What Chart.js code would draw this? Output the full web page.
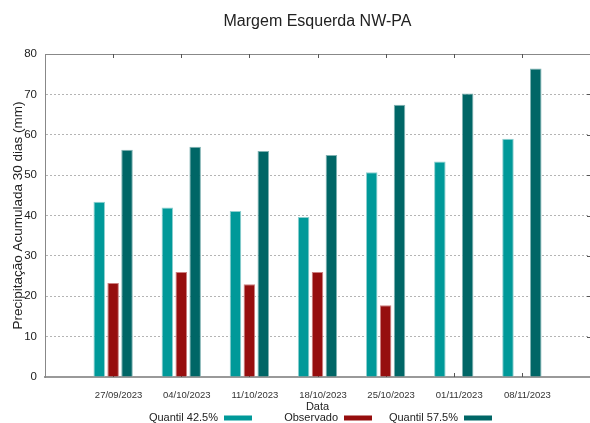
<!DOCTYPE html>
<html>
<head>
<meta charset="utf-8">
<script src="https://cdn.jsdelivr.net/npm/chart.js@4"></script>
<style>
  body { margin: 0; background: #fff; }
  canvas { display: block; }
</style>
</head>
<body>
<canvas id="chart" width="590" height="423"></canvas>
<script>
const dates = ["27/09/2023", "04/10/2023", "11/10/2023", "18/10/2023", "25/10/2023", "01/11/2023", "08/11/2023"];
const quantil425 = [43.4, 42.0, 41.1, 39.6, 50.7, 53.4, 59.0];
const observado = [23.3, 26.0, 23.0, 26.0, 17.8, null, null];
const quantil575 = [56.3, 57.0, 56.0, 55.0, 67.4, 70.2, 76.4];
const yMin = 0;
const yMax = 80;
const yStep = 10;

const FONT = "'Liberation Sans', Arial, sans-serif";

// gnuplot style: one empty slot on each side of the dates
const pad = (arr) => [null, ...arr, null];
const labels = ["", ...dates, ""];

// border on top plus small mirrored ticks
const framePlugin = {
  id: "frame",
  beforeDatasetsDraw(chart) {
    const { ctx, chartArea: a, scales } = chart;
    ctx.save();
    ctx.strokeStyle = "#888";
    ctx.lineWidth = 1;
    ctx.beginPath();
    ctx.moveTo(a.left, a.top + 0.5);
    ctx.lineTo(a.right, a.top + 0.5);
    ctx.stroke();
    ctx.strokeStyle = "#555";
    for (let i = 1; i <= dates.length; i++) {
      const x = Math.round(scales.x.getPixelForValue(i)) + 0.5;
      ctx.beginPath();
      ctx.moveTo(x, a.top);
      ctx.lineTo(x, a.top + 4);
      ctx.moveTo(x, a.bottom);
      ctx.lineTo(x, a.bottom - 4);
      ctx.stroke();
    }
    for (let v = yMin + yStep; v < yMax; v += yStep) {
      const y = Math.round(scales.y.getPixelForValue(v)) + 0.5;
      ctx.beginPath();
      ctx.moveTo(a.right, y);
      ctx.lineTo(a.right - 3, y);
      ctx.stroke();
    }
    ctx.restore();
  },
};

// legend under the axis title: text first, then the colour swatch
const legendPlugin = {
  id: "bottomLegend",
  afterDraw(chart) {
    const { ctx, chartArea: a } = chart;
    const cx = (a.left + a.right) / 2;
    ctx.save();
    ctx.font = "11px " + FONT;
    ctx.textAlign = "right";
    ctx.textBaseline = "middle";
    chart.data.datasets.forEach((ds, i) => {
      const right = cx + 54.5 + (i - 1) * 120;
      ctx.fillStyle = "#222";
      ctx.fillText(ds.label, right - 34, 418);
      ctx.fillStyle = ds.backgroundColor;
      ctx.fillRect(right - 28, 415.5, 28, 5);
    });
    ctx.restore();
  },
};

new Chart(document.getElementById("chart"), {
  type: "bar",
  data: {
    labels: labels,
    datasets: [
      {
        label: "Quantil 42.5%",
        data: pad(quantil425),
        backgroundColor: "#009999",
        borderColor: "#8fd0d0",
        borderWidth: 1,
      },
      {
        label: "Observado",
        data: pad(observado),
        backgroundColor: "#960e0e",
        borderColor: "#cc8080",
        borderWidth: 1,
      },
      {
        label: "Quantil 57.5%",
        data: pad(quantil575),
        backgroundColor: "#006666",
        borderColor: "#80b3b3",
        borderWidth: 1,
      },
    ],
  },
  options: {
    responsive: false,
    animation: false,
    categoryPercentage: 0.612,
    barPercentage: 0.83,
    layout: { padding: 0 },
    scales: {
      x: {
        offset: false,
        grid: { display: false, drawTicks: false },
        border: { color: "#999", width: 2 },
        ticks: {
          color: "#333",
          font: { family: FONT, size: 9.5 },
          padding: 13,
          labelOffset: 5.5,
          autoSkip: false,
          maxRotation: 0,
        },
        title: {
          display: true,
          text: "Data",
          color: "#222",
          font: { family: FONT, size: 11 },
          padding: { top: 0, bottom: 9 },
        },
        afterFit(scale) {
          scale.height = 46;
          scale.paddingLeft = 0;
          scale.paddingRight = 0;
        },
      },
      y: {
        min: yMin,
        max: yMax,
        ticks: {
          stepSize: yStep,
          color: "#222",
          font: { family: FONT, size: 11.5 },
          padding: 8,
        },
        grid: {
          drawTicks: false,
          color: (c) => (c.tick.value === yMin || c.tick.value === yMax ? "rgba(0,0,0,0)" : "#b4b4b4"),
          lineWidth: 1,
        },
        border: { color: "#888", width: 1, dash: [2, 2] },
        title: {
          display: true,
          text: "Precipitação Acumulada 30 dias (mm)",
          color: "#222",
          font: { family: FONT, size: 13.5 },
          padding: { top: 10, bottom: 0 },
        },
        afterFit(scale) {
          scale.width = 45;
        },
      },
    },
    plugins: {
      legend: { display: false },
      tooltip: { enabled: false },
      title: {
        display: true,
        text: "Margem Esquerda NW-PA",
        fullSize: false,
        color: "#222",
        font: { family: FONT, size: 16, weight: "normal" },
        padding: { top: 12.4, bottom: 22.4 },
      },
    },
  },
  plugins: [framePlugin, legendPlugin],
});
</script>
</body>
</html>
